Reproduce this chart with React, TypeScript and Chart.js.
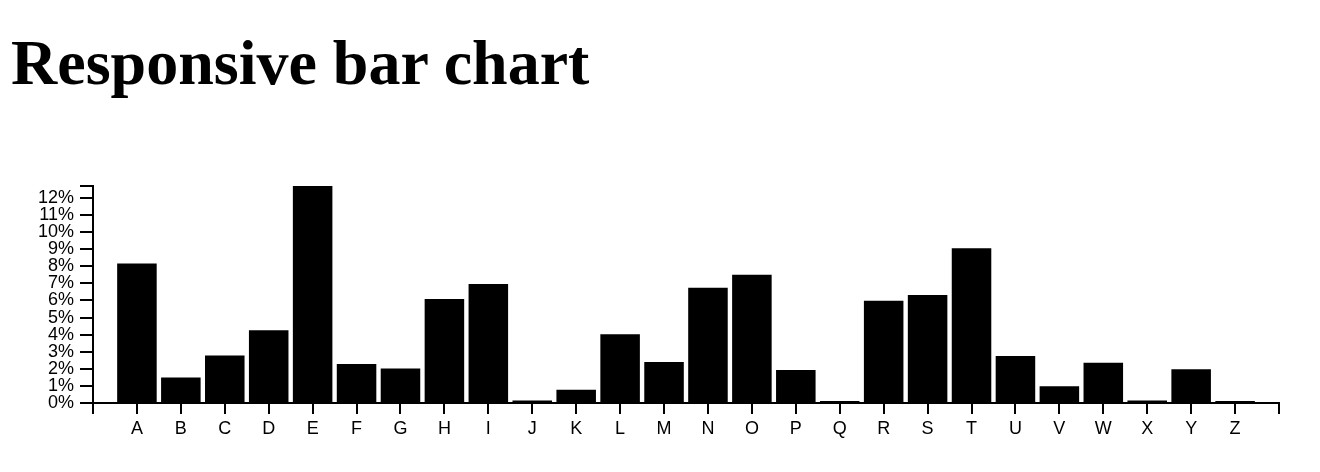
import { useEffect, useRef } from 'react';
import Chart from 'chart.js/auto';

const letters = ['A', 'B', 'C', 'D', 'E', 'F', 'G', 'H', 'I', 'J', 'K', 'L', 'M',
  'N', 'O', 'P', 'Q', 'R', 'S', 'T', 'U', 'V', 'W', 'X', 'Y', 'Z'];
const frequencies = [0.08167, 0.01492, 0.02782, 0.04253, 0.12702, 0.02288, 0.02015,
  0.06094, 0.06966, 0.00153, 0.00772, 0.04025, 0.02406, 0.06749, 0.07507, 0.01929,
  0.00095, 0.05987, 0.06327, 0.09056, 0.02758, 0.00978, 0.02360, 0.00150, 0.01974, 0.00074];
const yStep = 0.01;

const tickFont = { family: '"Liberation Sans", Arial, Helvetica, sans-serif', size: 18 };

export default function App() {
  const canvasRef = useRef<HTMLCanvasElement>(null);
  const chartRef = useRef<Chart | null>(null);

  useEffect(() => {
    if (!canvasRef.current) return;
    if (chartRef.current) chartRef.current.destroy();

    const yMax = Math.max(...frequencies);

    chartRef.current = new Chart(canvasRef.current, {
      type: 'bar',
      data: {
        datasets: [{
          data: frequencies.map((v, i) => ({ x: i, y: v })),
          backgroundColor: '#000',
          borderWidth: 0,
          barPercentage: 0.9,
          categoryPercentage: 1.0,
          minBarLength: 2,
        }],
      },
      options: {
        animation: false,
        responsive: true,
        maintainAspectRatio: false,
        layout: { padding: { top: 186, right: 41, bottom: 24, left: 0 } },
        plugins: {
          legend: { display: false },
          tooltip: { enabled: false },
        },
        scales: {
          x: {
            type: 'linear',
            min: -1,
            max: letters.length,
            offset: false,
            grid: {
              display: true, offset: false, drawOnChartArea: false, drawTicks: true,
              tickLength: 11, lineWidth: 2, color: '#000',
            },
            border: { display: true, color: '#000', width: 2 },
            ticks: {
              stepSize: 1,
              autoSkip: false,
              maxRotation: 0,
              padding: 4,
              color: '#000',
              font: tickFont,
              callback: (v: any) => letters[Math.round(Number(v))] ?? '',
            },
            afterFit: (scale: any) => { scale.height = 45; },
          },
          y: {
            min: 0,
            max: yMax,
            grid: { display: true, drawOnChartArea: false, drawTicks: true, tickLength: 13, lineWidth: 2, color: '#000' },
            border: { display: true, color: '#000', width: 2 },
            ticks: {
              stepSize: yStep,
              includeBounds: false,
              autoSkip: false,
              padding: 6,
              color: '#000',
              font: tickFont,
              callback: (v: any) => {
                const pct = Number(v) * 100;
                return Math.abs(pct - Math.round(pct)) < 1e-6 ? Math.round(pct) + '%' : '';
              },
            },
            // outer tick at the top end of the domain, as in the original
            afterBuildTicks: (scale: any) => { scale.ticks.push({ value: scale.max }); },
            afterFit: (scale: any) => { scale.width = 93; },
          },
        },
      },
    });

    return () => {
      if (chartRef.current) {
        chartRef.current.destroy();
        chartRef.current = null;
      }
    };
  }, []);

  return (
    <div style={{ position: 'fixed', left: 0, top: 0, width: 1320, height: 472, background: '#fff' }}>
      <div style={{ position: 'absolute', left: 0, top: 0, width: 1320, height: 472 }}>
        <canvas ref={canvasRef} />
      </div>
      <h1 style={{
        position: 'absolute', left: 11, top: 31, margin: 0,
        fontFamily: '"Liberation Serif", "Times New Roman", serif',
        fontSize: 64, lineHeight: '64px', fontWeight: 'bold', color: '#000',
      }}>
        Responsive bar chart
      </h1>
    </div>
  );
}
